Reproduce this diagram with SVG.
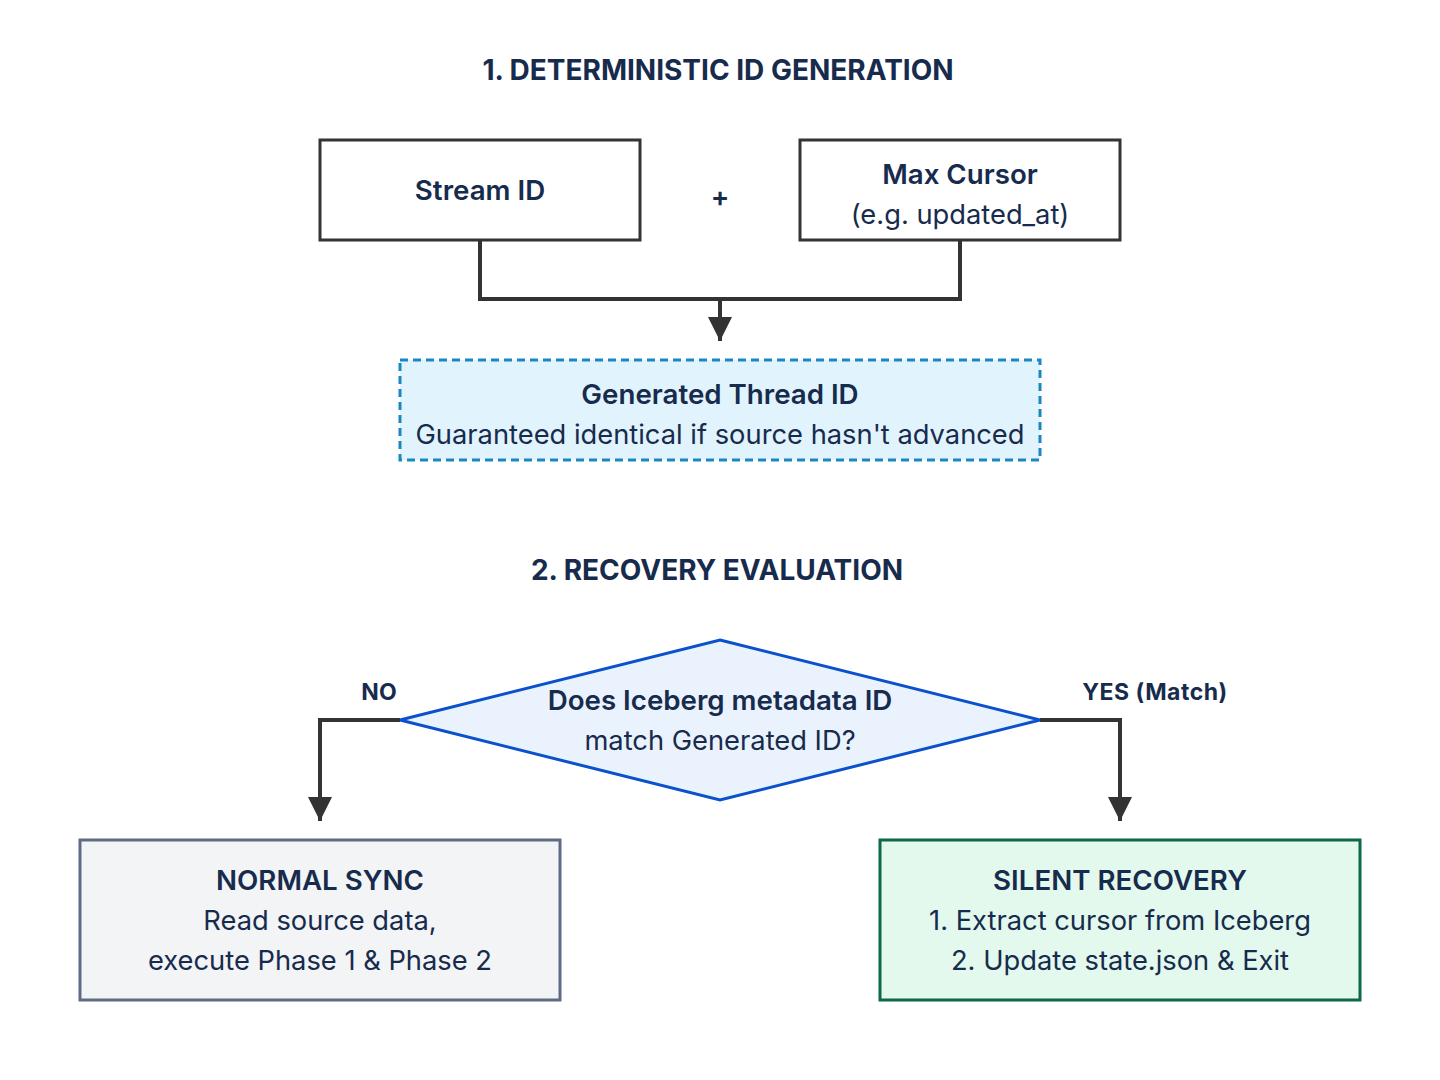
<svg xmlns="http://www.w3.org/2000/svg" width="1440" height="1080" viewBox="0 0 1440 1080">
<defs>
<style>
text{font-family:Inter,"Noto Sans","Liberation Sans",sans-serif;fill:#172b4d;text-anchor:middle;dominant-baseline:central}
.title{font-size:28px;font-weight:700}
.h{font-size:27.7px;font-weight:600}
.b{font-size:27.3px;font-weight:400}
.lbl{font-size:23px;font-weight:700}
.conn{fill:none;stroke:#333;stroke-width:4}
</style>
<marker id="arr" viewBox="0 0 10 10" refX="10" refY="5" markerWidth="6" markerHeight="6" markerUnits="strokeWidth" orient="auto">
<path d="M0,0 L10,5 L0,10 z" fill="#333"/>
</marker>
</defs>
<rect width="1440" height="1080" fill="#ffffff"/>
<text class="title" x="718" y="70">1. DETERMINISTIC ID GENERATION</text>
<text class="title" x="717" y="570">2. RECOVERY EVALUATION</text>
<g id="connectors">
<path class="conn" d="M480,241 V299 H960 V241"/>
<path class="conn" d="M720,299 V341" marker-end="url(#arr)"/>
<path class="conn" d="M400,720 H320 V821" marker-end="url(#arr)"/>
<path class="conn" d="M1040,720 H1120 V821" marker-end="url(#arr)"/>
<text class="lbl" x="379" y="692">NO</text>
<text class="lbl" x="1155" y="692" letter-spacing="0.5">YES (Match)</text>
</g>
<g id="stream">
<rect x="320" y="140" width="320" height="100" fill="#fff" stroke="#333" stroke-width="3"/>
<text class="h" x="480" y="190">Stream ID</text>
</g>
<g id="plus"><text class="h" x="720" y="196">+</text></g>
<g id="cursor">
<rect x="800" y="140" width="320" height="100" fill="#fff" stroke="#333" stroke-width="3"/>
<text class="h" x="960" y="174">Max Cursor</text>
<text class="b" x="960" y="214">(e.g. updated_at)</text>
</g>
<g id="generated">
<rect x="400" y="360" width="640" height="100" fill="#e1f3fc" stroke="#1a87c4" stroke-width="3" stroke-dasharray="8,5"/>
<text class="h" x="720" y="394">Generated Thread ID</text>
<text class="b" x="720" y="434">Guaranteed identical if source hasn't advanced</text>
</g>
<g id="decision">
<polygon points="720,640 1040,720 720,800 400,720" fill="#eaf3fd" stroke="#0a52cc" stroke-width="3"/>
<text class="h" x="720" y="700">Does Iceberg metadata ID</text>
<text class="b" x="720" y="740">match Generated ID?</text>
</g>
<g id="normal">
<rect x="80" y="840" width="480" height="160" fill="#f2f4f6" stroke="#5f6b85" stroke-width="3"/>
<text class="h" x="320" y="880">NORMAL SYNC</text>
<text class="b" x="320" y="920">Read source data,</text>
<text class="b" x="320" y="960">execute Phase 1 &amp; Phase 2</text>
</g>
<g id="silent">
<rect x="880" y="840" width="480" height="160" fill="#e3f9ee" stroke="#0b6b43" stroke-width="3"/>
<text class="h" x="1120" y="880">SILENT RECOVERY</text>
<text class="b" x="1120" y="920">1. Extract cursor from Iceberg</text>
<text class="b" x="1120" y="960">2. Update state.json &amp; Exit</text>
</g>
</svg>
